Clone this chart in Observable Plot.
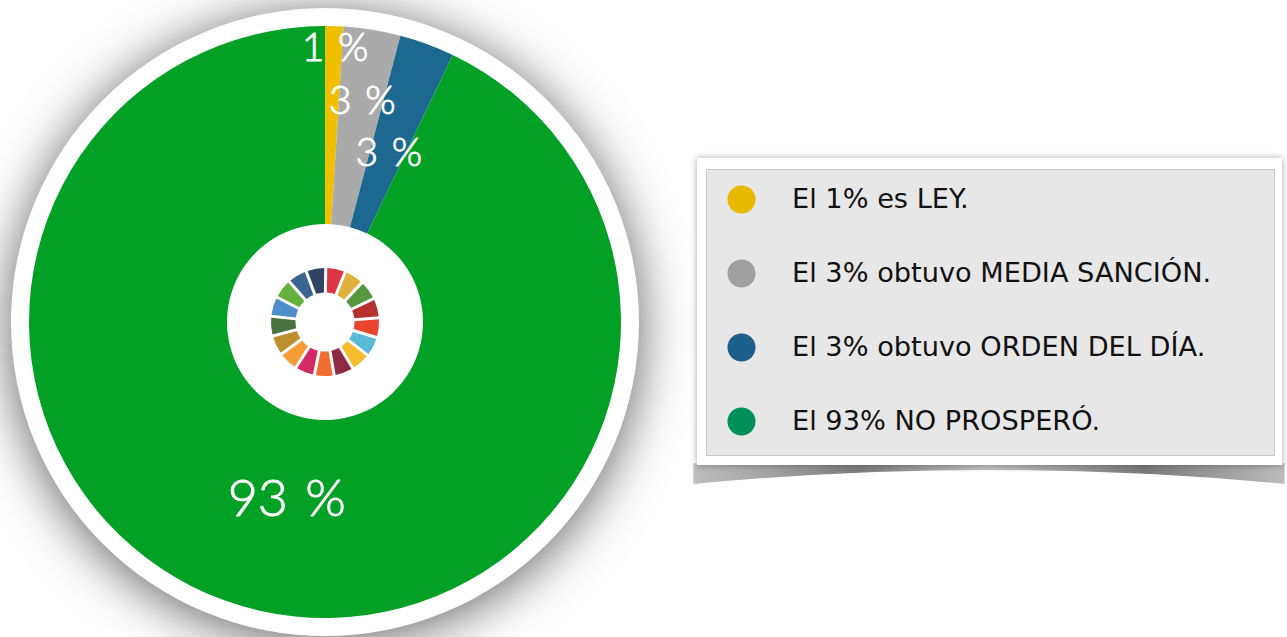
<!DOCTYPE html>
<html lang="es">
<head>
<meta charset="utf-8">
<script src="https://cdn.jsdelivr.net/npm/d3@7"></script>
<script src="https://cdn.jsdelivr.net/npm/@observablehq/plot@0.6"></script>
<style>
html,body{margin:0;padding:0;background:#fff;width:1287px;height:637px;overflow:hidden}
#pie{position:absolute;left:0;top:0}
#curl{position:absolute;left:693px;top:463px;width:592px;height:24px;
 background:linear-gradient(to right,#bdbdbd,#a5a5a5 12%,#7d7d7d 28%,#c4c4c4 50%,#7a7a7a 76%,#a0a0a0 90%,#bcbcbc);
 clip-path:path("M0 0 H592 V21 Q296 -7 0 21 Z");filter:blur(1px)}
#frame{position:absolute;left:697px;top:158px;width:585px;height:307px;background:#fff;box-shadow:0 0 7px rgba(0,0,0,.34)}
#panel{position:absolute;left:706px;top:169px;width:567px;height:285px;background:#e7e7e7;border:1px solid #c9c9c9}
#legend{position:absolute;left:706px;top:169px}
svg{display:block;overflow:visible}
</style>
</head>
<body>
<div id="pie"></div>
<div id="curl"></div>
<div id="frame"></div>
<div id="panel"></div>
<div id="legend"></div>
<script>
// Data
const shares = [1, 3.1, 3, 92.9];
const sliceLabels = ["1 %", "3 %", "3 %", "93 %"];
const sliceColors = ["#f0c000", "#aaaaaa", "#1d6890", "#02a024"];
const legendLabels = ["El 1% es LEY.", "El 3% obtuvo MEDIA SANCIÓN.", "El 3% obtuvo ORDEN DEL DÍA.", "El 93% NO PROSPERÓ."];
const legendColors = ["#e6b800", "#a0a0a0", "#1c5f8a", "#00915a"];
const wheelColors = ["#dd3444","#e0b03c","#5a9640","#b5302f","#e8442f","#5ab8d8","#f5bc2c","#8f2a45","#f06e30","#d42a64","#f59c35","#bf8f2f","#4a7240","#4d8dc8","#66b040","#3a6490","#2f4462"];

// Tables for the library
const ends = d3.cumsum(shares);
const slices = shares.map((s, i) => ({from: ends[i] - s, to: ends[i], color: sliceColors[i], label: sliceLabels[i], mid: ends[i] - s / 2}));
const wheel = wheelColors.map((color, i) => ({from: i * 100 / wheelColors.length, to: (i + 1) * 100 / wheelColors.length, color}));

const cx = 325, cy = 322;
// Render a rect as an annular sector: x channel = angle in radians, y channel = radius in px.
const arcRender = (pad, filter, rotate = 0) => (index, scales, values) => {
  const g = d3.create("svg:g").attr("transform", `translate(${cx},${cy}) rotate(${rotate})`);
  if (filter) g.style("filter", filter);
  const arc = d3.arc().padAngle(pad).padRadius(pad ? 100 : 0);
  for (const i of index) {
    g.append("path")
      .attr("fill", values.fill[i])
      .attr("d", arc({startAngle: values.x1[i], endAngle: values.x2[i], innerRadius: values.y1[i], outerRadius: values.y2[i]}));
  }
  return g.node();
};
const polarText = (index, scales, values, dims, ctx, next) => {
  const X = Array.from(values.x, (a, i) => cx + values.y[i] * Math.sin(a) + 1);
  const Y = Array.from(values.x, (a, i) => cy - values.y[i] * Math.cos(a) + 1);
  const node = next(index, scales, {...values, x: X, y: Y}, dims, ctx);
  node.style.wordSpacing = "3px";
  return node;
};
const labelRadii = [275, 225, 181, 180];
const labelSizes = [39, 39, 39, 52];

const pie = Plot.plot({
  width: 1287, height: 637, margin: 0,
  x: {domain: [0, 100], range: [0, 2 * Math.PI], axis: null},
  y: {domain: [0, 400], range: [0, 400], axis: null},
  marks: [
    Plot.rect([{from: 0, to: 100, color: "#fff"}], {x1: "from", x2: "to", y1: () => 0, y2: () => 314, fill: "color",
      render: arcRender(0, "drop-shadow(0 6px 26px rgba(0,0,0,.62))")}),
    Plot.rect(slices, {x1: "from", x2: "to", y1: () => 98, y2: () => 296, fill: "color", render: arcRender(0)}),
    Plot.rect(wheel, {x1: "from", x2: "to", y1: () => 29.5, y2: () => 54, fill: "color", render: arcRender(0.03, null, 0.8)}),
    ...slices.map((s, i) => Plot.text([s], {
      x: "mid", y: () => labelRadii[i], text: "label", fill: "#fff", stroke: "#fff", strokeWidth: 0.9,
      fontFamily: "Lato", fontWeight: 300, fontSize: labelSizes[i], render: polarText
    }))
  ]
});
document.getElementById("pie").append(pie);

const legend = Plot.plot({
  width: 567, height: 285, margin: 0,
  x: {domain: [0, 1], range: [35, 85.5], axis: null},
  y: {domain: legendLabels, type: "point", padding: 0, range: [29, 253], axis: null},
  marks: [
    Plot.dot(legendLabels, {x: () => 0, y: d => d, r: 14, fill: (d, i) => legendColors[i], stroke: null}),
    Plot.text(legendLabels, {x: () => 1, y: d => d, text: d => d, textAnchor: "start", fill: "#111",
      fontFamily: "DejaVu Sans", fontSize: 27.2})
  ]
});
document.getElementById("legend").append(legend);
</script>
</body>
</html>
